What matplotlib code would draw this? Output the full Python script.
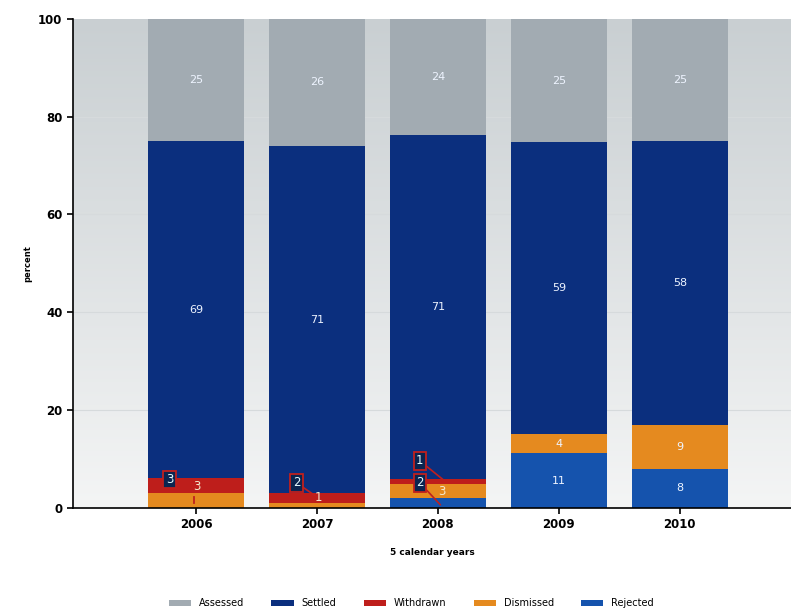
import numpy as np
import matplotlib.pyplot as plt
from matplotlib.colors import LinearSegmentedColormap

years = ['2006', '2007', '2008', '2009', '2010']
rejected = [0, 0, 2, 11, 8]
dismissed = [3, 1, 3, 4, 9]
withdrawn = [3, 2, 1, 0, 0]
settled = [69, 71, 71, 59, 58]
assessed = [25, 26, 24, 25, 25]

series = [('Rejected', rejected, '#1553ad'),
          ('Dismissed', dismissed, '#e58a1f'),
          ('Withdrawn', withdrawn, '#be1e1b'),
          ('Settled', settled, '#0b2f7e'),
          ('Assessed', assessed, '#a2abb2')]

# rounded percentages don't always add to 100, bars are drawn as 100% stacks
totals = np.sum([np.array(s[1], dtype=float) for s in series], axis=0)

fig = plt.figure(figsize=(7.91, 6.11), dpi=100)
ax = fig.add_axes([0.092, 0.169, 0.908, 0.80])

x = np.arange(len(years))
ax.set_xlim(-1.02, 4.92)
ax.set_ylim(0, 100)

# soft grey background gradient
grad = np.linspace(0, 1, 256).reshape(-1, 1)
cmap = LinearSegmentedColormap.from_list('bg', ['#f4f5f5', '#c9cfd2'])
ax.imshow(grad, aspect='auto', cmap=cmap, origin='lower',
          extent=(-1.02, 4.92, 0, 100), zorder=0)
for yv in [20, 40, 60, 80]:
    ax.axhline(yv, color='#d6dadc', lw=0.8, zorder=1)

bottom = np.zeros(len(years))
handles = {}
for name, vals, col in series:
    vals = np.array(vals, dtype=float)
    h = vals / totals * 100
    b = ax.bar(x, h, 0.79, bottom=bottom, color=col, zorder=2)
    handles[name] = b
    # big segments get a centred label
    for i, v in enumerate(vals):
        if v >= 4:
            ax.text(x[i], bottom[i] + h[i] / 2, str(int(v)), color='#eef4ff',
                    ha='center', va='center', fontsize=8, zorder=4)
    bottom += h

box = dict(boxstyle='square,pad=0.2', fc='#0b2550', ec='#c0201e', lw=1.3)
line = dict(arrowstyle='-', color='#c0201e', lw=1.2, shrinkA=0, shrinkB=0)
# small segment labels with leader lines
ax.text(x[0] - 0.22, 5.8, str(withdrawn[0]), color='#e6fbff', fontsize=8.5,
        ha='center', va='center', bbox=box, zorder=5)
ax.text(x[0] + 0.01, 4.4, str(dismissed[0]), color='#f3ead0', fontsize=8.5,
        ha='center', va='center', zorder=5)
ax.plot([x[0] - 0.02, x[0] - 0.02], [2.2, 1.0], color='#c0201e', lw=1.3, zorder=5)

ax.annotate(str(withdrawn[1]), xy=(x[1] + 0.0, 2.2), xytext=(x[1] - 0.17, 5.1),
            color='#e6fbff', fontsize=8.5, ha='center', va='center', bbox=box,
            arrowprops=line, zorder=5)
ax.text(x[1] + 0.01, 2.0, str(dismissed[1]), color='#f3ead0', fontsize=8.5,
        ha='center', va='center', zorder=5)

ax.annotate(str(withdrawn[2]), xy=(x[2] + 0.05, 5.6), xytext=(x[2] - 0.15, 9.6),
            color='#e6fbff', fontsize=8.5, ha='center', va='center', bbox=box,
            arrowprops=line, zorder=5)
ax.annotate(str(rejected[2]), xy=(x[2] + 0.02, 0.6), xytext=(x[2] - 0.15, 5.1),
            color='#e6fbff', fontsize=8.5, ha='center', va='center', bbox=box,
            arrowprops=line, zorder=5)
ax.text(x[2] + 0.03, 3.3, str(dismissed[2]), color='#f3ead0', fontsize=8.5,
        ha='center', va='center', zorder=5)

ax.set_xticks(x)
ax.set_xticklabels(years, fontsize=8.5, fontweight='bold')
ax.set_yticks([0, 20, 40, 60, 80, 100])
ax.set_yticklabels(['0', '20', '40', '60', '80', '100'], fontsize=8.5, fontweight='bold')
ax.tick_params(axis='both', direction='out', length=4, width=1.2)
for s in ['top', 'right']:
    ax.spines[s].set_visible(False)
for s in ['left', 'bottom']:
    ax.spines[s].set_linewidth(1.2)
ax.set_ylabel('percent', fontsize=6, fontweight='bold')
ax.set_xlabel('5 calendar years', fontsize=6.5, fontweight='bold', labelpad=12)

order = ['Assessed', 'Settled', 'Withdrawn', 'Dismissed', 'Rejected']
fig.legend([handles[n] for n in order], order, loc='lower center',
           bbox_to_anchor=(0.52, -0.01), ncol=5, frameon=False, fontsize=7,
           handlelength=2.3, handleheight=0.7, columnspacing=2.8)

fig.savefig('out.png', dpi=100)
